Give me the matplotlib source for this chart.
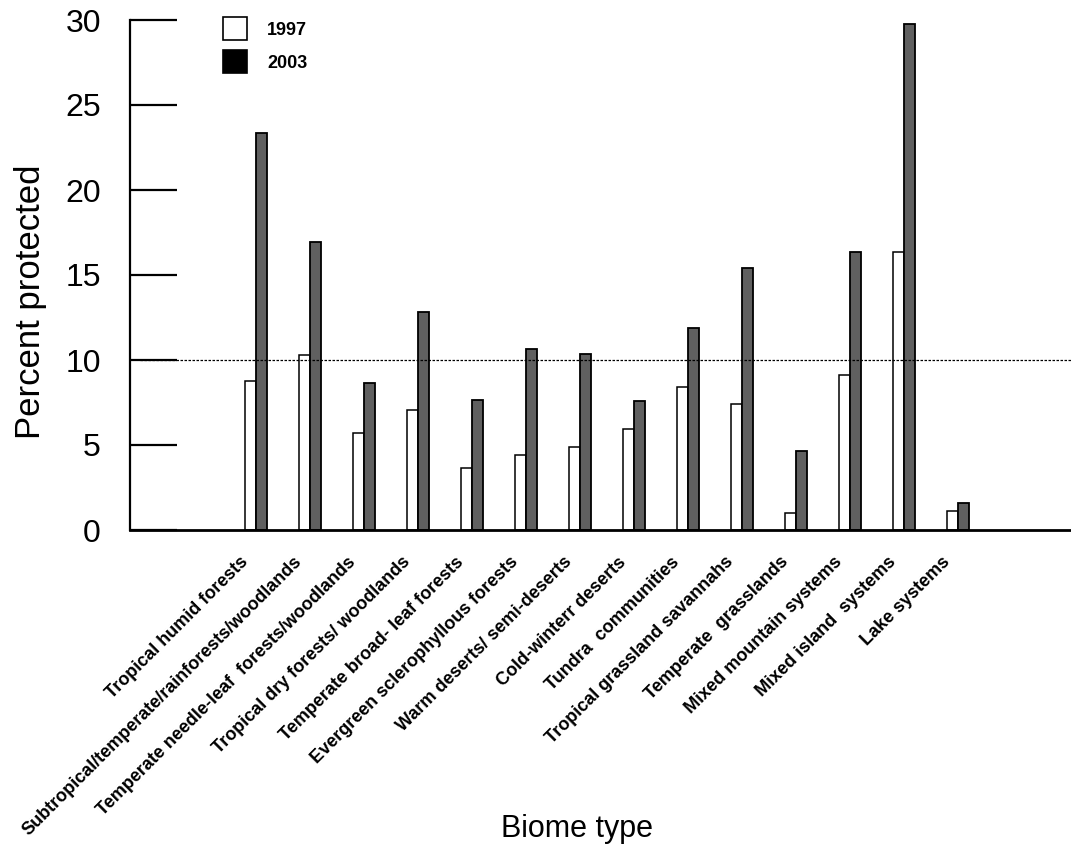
import matplotlib
matplotlib.use("Agg")
import matplotlib.pyplot as plt
import matplotlib.patches as patches
import matplotlib.transforms as mtransforms
import numpy as np

biomes = [
    "Tropical humid forests",
    "Subtropical/temperate/rainforests/woodlands",
    "Temperate needle-leaf  forests/woodlands",
    "Tropical dry forests/ woodlands",
    "Temperate broad- leaf forests",
    "Evergreen sclerophyllous forests",
    "Warm deserts/ semi-deserts",
    "Cold-winterr deserts",
    "Tundra  communities",
    "Tropical grassland savannahs",
    "Temperate  grasslands",
    "Mixed mountain systems",
    "Mixed island  systems",
    "Lake systems",
]
pct_1997 = [8.76, 10.3, 5.72, 7.08, 3.63, 4.39, 4.86, 5.92, 8.39, 7.43, 1.0, 9.12, 16.33, 1.12]
pct_2003 = [23.37, 16.96, 8.67, 12.85, 7.65, 10.65, 10.35, 7.6, 11.9, 15.43, 4.63, 16.35, 29.75, 1.59]
years = ["1997", "2003"]
yticks = [0, 5, 10, 15, 20, 25, 30]

plt.rcParams["font.family"] = ["Liberation Sans", "DejaVu Sans"]

fig = plt.figure(figsize=(10.71, 8.48), dpi=100)
ax = fig.add_axes([130 / 1071, 318 / 848, 941 / 1071, 510 / 848])

x = np.arange(len(biomes))
w = 0.2
ax.bar(x - w / 2, pct_1997, width=w, color="white", edgecolor="black", linewidth=1.1)
ax.bar(x + w / 2, pct_2003, width=w, color="#606060", edgecolor="black", linewidth=1.3)

# 10% reference line
ax.axhline(10, xmin=0.011, xmax=1, color="black", linestyle=(0, (2, 1.2)), linewidth=0.9)

ax.set_xlim(-2.333, 15.09)
ax.set_ylim(0, 30)

for s in ["top", "right"]:
    ax.spines[s].set_visible(False)
ax.spines["left"].set_linewidth(1.6)
ax.spines["bottom"].set_linewidth(2.0)

ax.set_yticks(yticks)
ax.set_yticklabels([str(v) for v in yticks], fontsize=23)
ax.tick_params(axis="y", direction="in", length=34, width=1.6, pad=21)
ax.set_xticks([])

# rotated category labels
trans = mtransforms.blended_transform_factory(ax.transData, ax.transAxes)
for i, name in enumerate(biomes):
    ax.text(i - 0.2, -0.058, name, transform=trans, rotation=45,
            ha="right", va="center", rotation_mode="anchor",
            fontsize=13, fontweight="bold")

fig.text(31 / 1071, 1 - 302 / 848, "Percent protected", rotation=90,
         ha="center", va="center", fontsize=25)
fig.text(577 / 1071, 1 - 829 / 848, "Biome type", ha="center", va="center",
         fontsize=22)

handles = [patches.Patch(facecolor="white", edgecolor="black", linewidth=1.2),
           patches.Patch(facecolor="black", edgecolor="black", linewidth=1.2)]
ax.legend(handles, years, loc="upper left", bbox_to_anchor=(86 / 941, 1.02),
          frameon=False, handlelength=1.33, handleheight=1.6,
          handletextpad=1.1, labelspacing=0.55, borderaxespad=0,
          prop={"weight": "bold", "size": 13})

fig.savefig("out.png", dpi=100)
